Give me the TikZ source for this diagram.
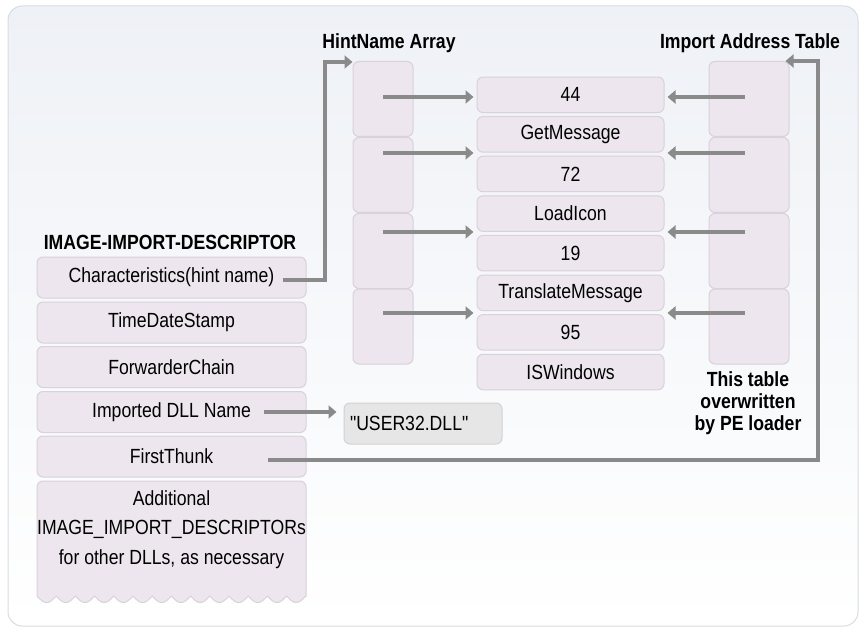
\documentclass[tikz,border=0pt]{standalone}
\usepackage{fontspec}
\setmainfont{Liberation Sans}[FakeStretch=0.86, Ligatures=TeXOff]
\usetikzlibrary{arrows.meta,calc}
\definecolor{boxfill}{HTML}{EDE6EE}
\definecolor{boxline}{HTML}{D9D1DB}
\definecolor{arrowgray}{HTML}{8A8A8A}
\definecolor{bgtop}{HTML}{EEF1F6}
\definecolor{frameline}{HTML}{D8DCE1}
\definecolor{dllfill}{HTML}{E6E6E6}
\definecolor{dllline}{HTML}{D2D2D2}
\begin{document}
\begin{tikzpicture}[x=1pt,y=-1pt,
  font=\fontsize{20.5}{22}\selectfont,
  cell/.style={draw=boxline, fill=boxfill, rounded corners=6pt, line width=1pt, inner sep=0pt},
  desc/.style={cell, minimum width=269pt, minimum height=41pt},
  hint/.style={cell, minimum width=60pt, minimum height=75pt},
  entry/.style={cell, minimum width=187pt, minimum height=35.5pt},
  title/.style={font=\fontsize{20.5}{22}\selectfont\bfseries, inner sep=0pt},
  arr/.style={draw=arrowgray, line width=3.5pt, -{Triangle[length=8pt,width=13pt]}}]
\useasboundingbox (0,0) rectangle (861,628);
% background frame
\draw[frameline, line width=1pt, top color=bgtop, bottom color=white, rounded corners=14pt] (8,6) rectangle (858,626);

% titles
\node[title] (tHint) at (389,43) {HintName Array};
\node[title] (tIAT) at (750,43) {Import Address Table};
\node[title] (tDesc) at (170,242) {IMAGE-IMPORT-DESCRIPTOR};
\node[title, align=center] (tNote) at (748,403) {This table\\overwritten\\by PE loader};

% descriptor boxes
\node[desc] (d1) at (171.5,277.5) {Characteristics(hint name)};
\node[desc] (d2) at (171.5,322.5) {TimeDateStamp};
\node[desc] (d3) at (171.5,367) {ForwarderChain};
\node[desc] (d4) at (171.5,412) {Imported DLL Name};
\node[desc] (d5) at (171.5,456.5) {FirstThunk};
\draw[draw=boxline, fill=boxfill, line width=1pt]
  (37,596) [rounded corners=6pt] -- (37,481) -- (306,481) [sharp corners] -- (306,596)
  -- plot[domain=306:37, samples=400] (\x, {596 + 6.5*abs(sin(9.375*(\x-37)))}) -- cycle;
\node[align=center, font=\fontsize{20.5}{29.5}\selectfont] (d6) at (171.5,529.5) {Additional\\IMAGE\_IMPORT\_DESCRIPTORs\\for other DLLs, as necessary};

% DLL name box
\node[draw=dllline, fill=dllfill, rounded corners=6pt, line width=1pt, minimum width=158pt, minimum height=41pt, text width=146pt, inner xsep=6pt, align=left] (dll) at (423,423.5) {"USER32.DLL"};

% hint name array
\node[hint] (h1) at (383,99) {};
\node[hint] (h2) at (383,175) {};
\node[hint] (h3) at (383,251) {};
\node[hint] (h4) at (383,326.5) {};

% import address table
\node[hint, minimum width=80pt] (i1) at (749,99) {};
\node[hint, minimum width=80pt] (i2) at (749,175) {};
\node[hint, minimum width=80pt] (i3) at (749,251) {};
\node[hint, minimum width=80pt] (i4) at (749,326.5) {};

% entries
\node[entry] (n44) at (570.5,94.8) {44};
\node[entry] (gm) at (570.5,134.4) {GetMessage};
\node[entry] (n72) at (570.5,174) {72};
\node[entry] (li) at (570.5,213.6) {LoadIcon};
\node[entry] (n19) at (570.5,253.2) {19};
\node[entry] (tm) at (570.5,292.8) {TranslateMessage};
\node[entry] (n95) at (570.5,332.4) {95};
\node[entry] (isw) at (570.5,372) {ISWindows};

% arrow rows
\coordinate (r1) at (0,97);
\coordinate (r2) at (0,153);
\coordinate (r3) at (0,232);
\coordinate (r4) at (0,313);

\draw[arr, shorten >=3pt] (h1.center |- r1) -- (n44.west |- r1);
\draw[arr, shorten >=3pt] (h2.center |- r2) -- (n72.west |- r2);
\draw[arr, shorten >=3pt] (h3.center |- r3) -- (n19.west |- r3);
\draw[arr, shorten >=3pt] (h4.center |- r4) -- (n95.west |- r4);

\draw[arr, shorten >=3pt] ([xshift=-4pt]i1.center |- r1) -- (n44.east |- r1);
\draw[arr, shorten >=3pt] ([xshift=-4pt]i2.center |- r2) -- (n72.east |- r2);
\draw[arr, shorten >=3pt] ([xshift=-4pt]i3.center |- r3) -- (n19.east |- r3);
\draw[arr, shorten >=3pt] ([xshift=-4pt]i4.center |- r4) -- (n95.east |- r4);

% elbow connectors
\coordinate (cv) at (325,62);
\draw[arr] ($(d1.east)+(-24,2.5)$) -| (cv) -- (cv -| h1.west);
\coordinate (ce) at (818,61);
\draw[arr] ($(d5.east)+(-39,3.5)$) -| (ce) -- ($(i1.north east)+(-4,0)$);
\draw[arr, shorten >=7pt] ($(d4.east)+(-43,0)$) -- (dll.west |- d4.east);
\end{tikzpicture}
\end{document}
